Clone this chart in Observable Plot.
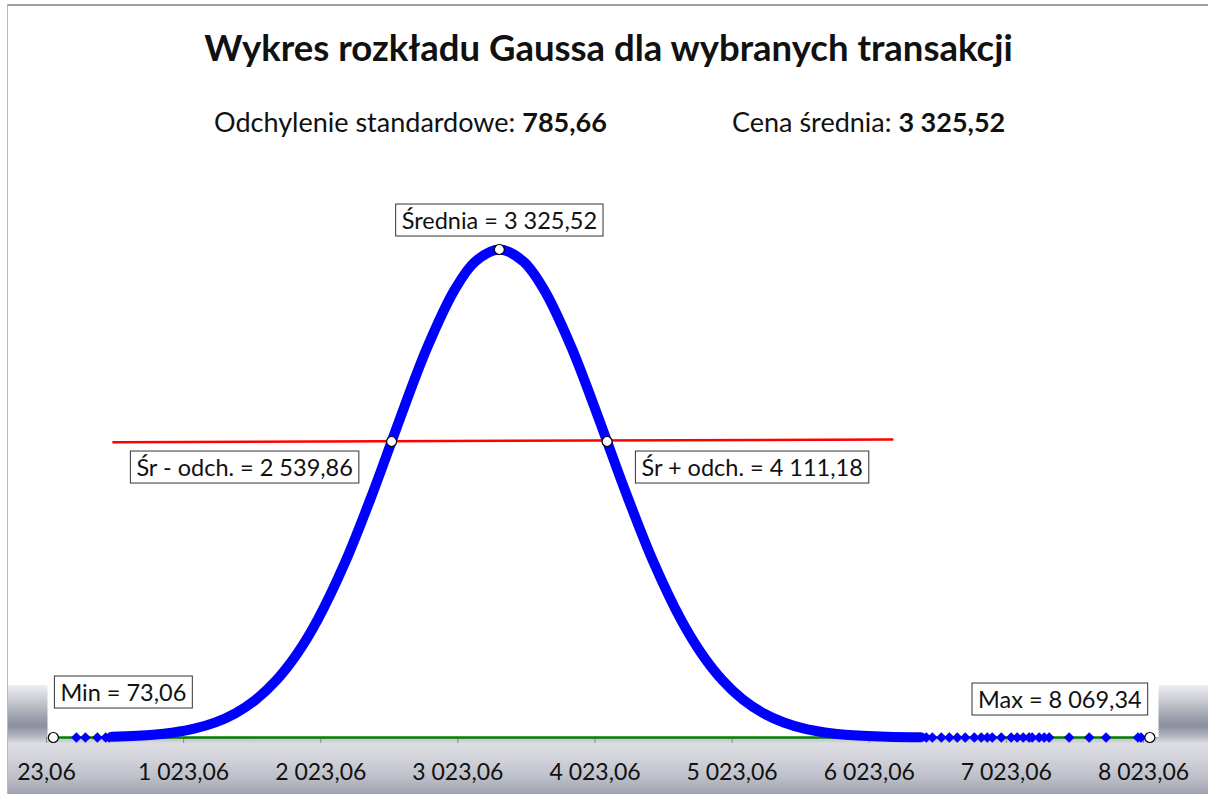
<!DOCTYPE html>
<html><head><meta charset="utf-8">
<script src="https://cdn.jsdelivr.net/npm/d3@7"></script>
<script src="https://cdn.jsdelivr.net/npm/@observablehq/plot@0.6"></script>
<style>
body{margin:0;background:#fff;}
#chart{position:absolute;left:7px;top:4px;width:1201px;height:790px;border-top:2px solid #a0a0a0;border-left:1px solid #b8b8b8;
 background:#fff linear-gradient(to bottom,#eeeff2 0%,#c9cbd2 14%,#9a9dab 30%,#8d909f 37%,#b3b5c0 46%,#dedfe4 53%,#d2d3da 66%,#bfc1ca 82%,#9c9faf 100%) no-repeat left bottom / 100% 111px;
 font-family:Lato,"Open Sans",sans-serif;color:#111;}
#title{position:absolute;left:0;top:19px;width:1201px;text-align:center;font-weight:bold;font-size:36.5px;line-height:44px;}
.sub{position:absolute;top:100px;font-size:27px;line-height:32px;white-space:nowrap;}
#plot{position:absolute;left:0;top:154px;}
</style></head>
<body>
<div id="chart">
 <div id="title">Wykres rozkładu Gaussa dla wybranych transakcji</div>
 <div class="sub" style="left:206px">Odchylenie standardowe: <b>785,66</b></div>
 <div class="sub" style="left:724px">Cena średnia: <b>3 325,52</b></div>
 <div id="plot"></div>
</div>
<script>
// Gaussian curve (price, density)
const curveX = [500, 800, 950, 1100, 1250, 1400, 1550, 1700, 1850, 2000, 2200, 2400, 2539.86, 2600, 2800, 3000, 3150, 3325.52,
  3500, 3650, 3850, 4050, 4111.18, 4250, 4450, 4650, 4800, 4950, 5100, 5250, 5400, 5550, 5700, 5850, 6150, 6400];
const curveY = [0.00000079, 0.0000029, 0.00000525, 0.0000092, 0.0000155, 0.0000252, 0.0000395, 0.0000597, 0.000087, 0.0001224,
  0.000182, 0.0002537, 0.000308, 0.0003315, 0.000406, 0.000466, 0.0004953, 0.0005078,
  0.0004954, 0.0004663, 0.0004064, 0.0003319, 0.000308, 0.0002541, 0.0001823, 0.0001226, 0.0000873, 0.0000599, 0.0000396,
  0.0000253, 0.00001555, 0.0000092, 0.00000527, 0.0000029, 0.00000079, 0.00000024];
// isolated transactions in the tails (price, density ~ 0)
const tailX = [241, 307, 394, 455, 480, 6439, 6483, 6549, 6607, 6665, 6723, 6789, 6840, 6884, 6920, 6986, 7058, 7102,
  7146, 7189, 7211, 7262, 7299, 7335, 7481, 7627, 7750, 7983, 8005];
const tailY = tailX.map(() => 0);
// min / max baseline
const rangeX = [73.06, 8069.34];
const rangeY = [0, 0];
// red line at mean ± sd level
const sdLineX = [511, 6192];
const sdLineY = [0.0003073, 0.0003101];
// labelled points
const markerNames = ["min", "mean", "minus", "plus", "max"];
const markerX = [73.06, 3325.52, 2539.86, 4111.18, 8069.34];
const markerY = [0, 0.0005078, 0.000308, 0.000308, 0];
const markerLabels = ["Min = 73,06", "Średnia = 3 325,52", "Śr - odch. = 2 539,86", "Śr + odch. = 4 111,18", "Max = 8 069,34"];
// axis
const tickValues = [23.06, 1023.06, 2023.06, 3023.06, 4023.06, 5023.06, 6023.06, 7023.06, 8023.06];
const tickLabels = ["23,06", "1 023,06", "2 023,06", "3 023,06", "4 023,06", "5 023,06", "6 023,06", "7 023,06", "8 023,06"];

const curve = curveX.map((x, i) => ({x, y: curveY[i]}));
const tails = tailX.map((x, i) => ({x, y: tailY[i]}));
const baseline = rangeX.map((x, i) => ({x, y: rangeY[i]}));
const sdLine = sdLineX.map((x, i) => ({x, y: sdLineY[i]}));
const markers = markerNames.map((name, i) => ({name, x: markerX[i], y: markerY[i], label: markerLabels[i]}));

const labelOpts = {x: "x", y: "y", text: "label", fontSize: 23.5, fill: "#111", fontFamily: "Lato"};
const lab = (name, dx, dy) => Plot.text(markers.filter(d => d.name === name), {...labelOpts, dx, dy});

const chart = Plot.plot({
  width: 1200, height: 634,
  marginLeft: 39, marginRight: 50, marginTop: 0, marginBottom: 57,
  style: {background: "transparent", fontFamily: "Lato", fontSize: "23px", color: "#111"},
  x: {domain: [23.06, 8023.06], range: [38, 1135], ticks: tickValues,
      tickFormat: d => tickLabels[tickValues.indexOf(d)], tickSize: 6, tickPadding: 20, label: null},
  y: {domain: [0, 0.0005078], range: [577, 89], axis: null},
  marks: [
    Plot.frame({fill: "white", stroke: "none"}),
    Plot.ruleY([0], {stroke: "#a6a6a6", strokeWidth: 1.2}),
    Plot.line(baseline, {x: "x", y: "y", stroke: "#008000", strokeWidth: 2.5}),
    Plot.line(curve, {x: "x", y: "y", stroke: "#0000ff", strokeWidth: 10, curve: "catmull-rom"}),
    Plot.dot(tails, {x: "x", y: "y", symbol: "diamond2", r: 4.8, fill: "#0000ff", stroke: "none"}),
    Plot.line(sdLine, {x: "x", y: "y", stroke: "#ff0000", strokeWidth: 2.5}),
    Plot.dot(markers, {x: "x", y: "y", r: 5, fill: "white", stroke: "black", strokeWidth: 1.2}),
    lab("mean", 0, -28),
    lab("minus", -147, 27),
    lab("plus", 145, 27),
    lab("min", 70, -44),
    lab("max", -90, -37)
  ]
});
document.getElementById("plot").appendChild(chart);

const svg = d3.select(chart);
svg.selectAll('[aria-label^="x-axis"] line, [aria-label="x-axis tick"] path').attr("stroke", "#8c8c8c");
svg.selectAll('g[aria-label="text"] text').each(function () {
  const b = this.getBBox();
  const r = document.createElementNS("http://www.w3.org/2000/svg", "rect");
  r.setAttribute("x", b.x - 6);
  r.setAttribute("y", b.y - 2);
  r.setAttribute("width", b.width + 12);
  r.setAttribute("height", b.height + 4);
  r.setAttribute("fill", "white");
  r.setAttribute("stroke", "#333");
  r.setAttribute("stroke-width", 1);
  const t = this.getAttribute("transform");
  if (t) r.setAttribute("transform", t);
  this.parentNode.insertBefore(r, this);
});
</script>
</body></html>
